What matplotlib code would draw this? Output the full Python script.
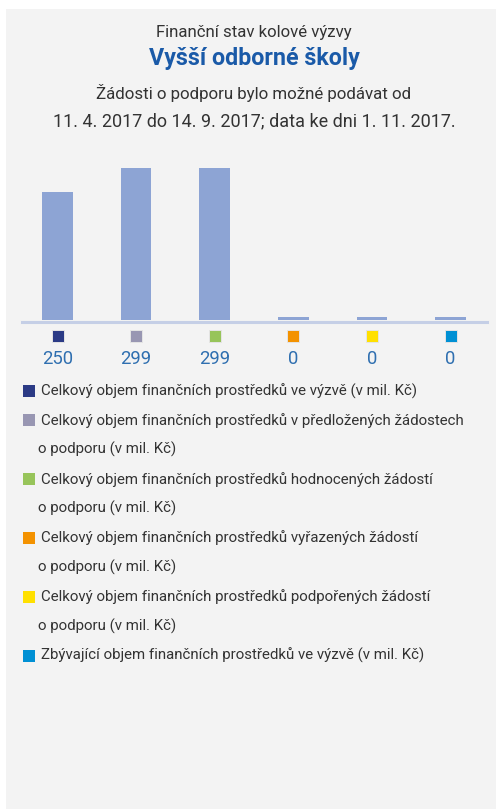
import matplotlib
matplotlib.use("Agg")
import matplotlib.pyplot as plt
from matplotlib.patches import Rectangle
from matplotlib.lines import Line2D
from matplotlib.transforms import blended_transform_factory

W, H = 497, 809

# data
values = [250, 299, 299, 0, 0, 0]
value_labels = ["250", "299", "299", "0", "0", "0"]
marker_colors = ["#2b3a85", "#9896b2", "#97c45a", "#f39200", "#ffe000", "#0090d4"]
legend_lines = [
    ["Celkový objem finančních prostředků ve výzvě (v mil. Kč)"],
    ["Celkový objem finančních prostředků v předložených žádostech", "o podporu (v mil. Kč)"],
    ["Celkový objem finančních prostředků hodnocených žádostí", "o podporu (v mil. Kč)"],
    ["Celkový objem finančních prostředků vyřazených žádostí", "o podporu (v mil. Kč)"],
    ["Celkový objem finančních prostředků podpořených žádostí", "o podporu (v mil. Kč)"],
    ["Zbývající objem finančních prostředků ve výzvě (v mil. Kč)"],
]

plt.rcParams["font.family"] = ["Roboto", "DejaVu Sans"]

def fx(x):
    return x / W

def fy(y):
    return 1 - y / H

fig = plt.figure(figsize=(W / 100, H / 100), dpi=100)
fig.patch.set_facecolor("white")
fig.patches.append(Rectangle((fx(6), 0), fx(490), fy(9), transform=fig.transFigure,
                             facecolor="#f3f3f3", edgecolor="none", zorder=-5))
renderer = fig.canvas.get_renderer()

def fit(t, width):
    # zmensi/zvetsi pismo, aby text mel zhruba sirku jako v predloze
    w = t.get_window_extent(renderer).width
    t.set_fontsize(t.get_fontsize() * width / w)
    return t.get_fontsize()

# titulky
t = fig.text(fx(254), fy(33), "Finanční stav kolové výzvy", ha="center", va="center",
             fontsize=10, color="#333333")
fit(t, 197)
t = fig.text(fx(254), fy(58), "Vyšší odborné školy", ha="center", va="center",
             fontsize=10, color="#1a5aa8", fontweight="bold")
fit(t, 211)
t = fig.text(fx(254), fy(93), "Žádosti o podporu bylo možné podávat od", ha="center", va="center",
             fontsize=10, color="#333333")
fit(t, 315)
t = fig.text(fx(254), fy(121), "11. 4. 2017 do 14. 9. 2017; data ke dni 1. 11. 2017.", ha="center",
             va="center", fontsize=10, color="#333333")
fit(t, 402)

# sloupce
stub = 6
ax = fig.add_axes([fx(18.2), fy(320), fx(489.8 - 18.2), (320 - 168) / H])
ax.set_facecolor("none")
x = list(range(len(values)))
ax.bar(x, [v + stub for v in values], bottom=-stub, width=0.39, color="#8da4d4")
ax.set_xlim(-0.5, 5.5)
ax.set_ylim(-stub, 299)
ax.axis("off")

fig.add_artist(Line2D([fx(22), fx(487)], [fy(322), fy(322)], transform=fig.transFigure,
                      color="#c5cfe6", linewidth=2.2))

tr = blended_transform_factory(ax.transData, fig.transFigure)
vsize = None
for i, (c, lab) in enumerate(zip(marker_colors, value_labels)):
    ax.scatter([i], [fy(336)], s=78, marker="s", color=c, edgecolor="#e4e4e4",
               linewidth=0.7, transform=tr, clip_on=False)
    t = ax.text(i, fy(359), lab, transform=tr, ha="center", va="center",
                fontsize=10, color="#2f6fb0")
    if vsize is None:
        vsize = fit(t, 31)
    t.set_fontsize(vsize)

# legenda
probe = fig.text(0, 0, legend_lines[1][0], fontsize=10)
lsize = fit(probe, 425)
probe.remove()

y = 391
step = 29.4
for c, lines in zip(marker_colors, legend_lines):
    fig.patches.append(Rectangle((fx(23), fy(y + 6)), fx(12), 12 / H, transform=fig.transFigure,
                                 facecolor=c, edgecolor="none"))
    for j, line in enumerate(lines):
        fig.text(fx(41 if j == 0 else 38), fy(y), line, ha="left", va="center",
                 fontsize=lsize, color="#333333")
        y += step

fig.savefig("out.png", dpi=100)
